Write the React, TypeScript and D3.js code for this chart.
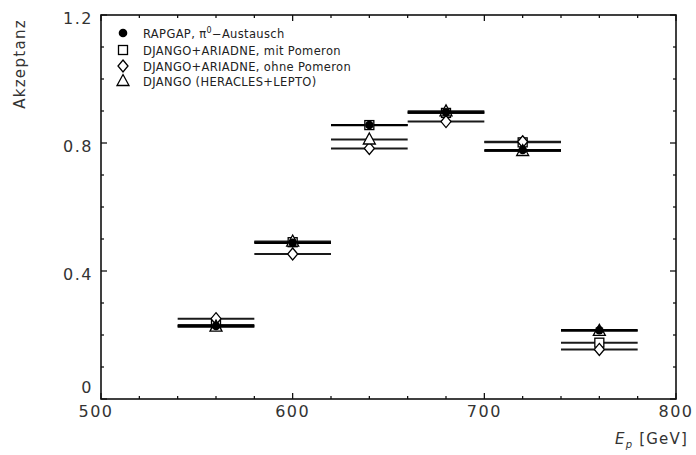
import React from "react";
import * as d3 from "d3";

// ---- data ----
const binCenters = [560, 600, 640, 680, 720, 760];
const binHalfWidth = 20;
const rapgap = [0.228, 0.488, 0.856, 0.896, 0.778, 0.215];
const ariadneMit = [0.231, 0.49, 0.856, 0.894, 0.802, 0.176];
const ariadneOhne = [0.251, 0.453, 0.783, 0.867, 0.804, 0.155];
const djangoLepto = [0.226, 0.492, 0.811, 0.899, 0.775, 0.213];
const xTicksMajor = [500, 600, 700, 800];
const yTicksMajor = [0, 0.4, 0.8, 1.2];
const legendLabels = [
  "RAPGAP, π",
  "DJANGO+ARIADNE, mit Pomeron",
  "DJANGO+ARIADNE, ohne Pomeron",
  "DJANGO (HERACLES+LEPTO)",
];

const W = 696;
const H = 455;
const x = d3.scaleLinear().domain([500, 800]).range([101, 676]);
const y = d3.scaleLinear().domain([0, 1.2]).range([399, 15]);

type Shape = "circle" | "square" | "diamond" | "triangle";
const series: { values: number[]; shape: Shape; color: string; width: number }[] = [
  { values: ariadneOhne, shape: "diamond", color: "#1a1a1a", width: 2 },
  { values: djangoLepto, shape: "triangle", color: "#1a1a1a", width: 2 },
  { values: ariadneMit, shape: "square", color: "#1a1a1a", width: 2 },
  { values: rapgap, shape: "circle", color: "#000", width: 2.2 },
];

function Marker({ shape, cx, cy }: { shape: Shape; cx: number; cy: number }) {
  const sw = 1.3;
  if (shape === "circle")
    return <circle cx={cx} cy={cy} r={4.3} fill="#000" />;
  if (shape === "square")
    return <rect x={cx - 4.5} y={cy - 4.5} width={9} height={9} fill="#fff" stroke="#000" strokeWidth={sw} />;
  if (shape === "diamond") {
    const p = d3.path();
    p.moveTo(cx, cy - 6);
    p.lineTo(cx + 5, cy);
    p.lineTo(cx, cy + 6);
    p.lineTo(cx - 5, cy);
    p.closePath();
    return <path d={p.toString()} fill="#fff" stroke="#000" strokeWidth={sw} />;
  }
  const p = d3.path();
  p.moveTo(cx, cy - 6.5);
  p.lineTo(cx + 6, cy + 4.5);
  p.lineTo(cx - 6, cy + 4.5);
  p.closePath();
  return <path d={p.toString()} fill="#fff" stroke="#000" strokeWidth={sw} />;
}

export default function App() {
  const xMinor = d3.range(500, 801, 20);
  const yMinor = d3.range(0, 1.2001, 0.1);
  const [x0, x1] = x.range();
  const [y0, y1] = y.range();
  const font = "'DejaVu Sans', sans-serif";
  const legendShapes: Shape[] = ["circle", "square", "diamond", "triangle"];
  const legendY = [33, 50, 66, 81];
  const markerOrder: Shape[] = ["square", "diamond", "triangle", "circle"];

  return (
    <svg width={W} height={H} style={{ position: "absolute", left: 0, top: 0, background: "#fff" }}>
      <rect width={W} height={H} fill="#fff" />
      {/* ticks */}
      {xMinor.map((v) => {
        const major = xTicksMajor.includes(v);
        const len = major ? 6 : 3;
        return (
          <g key={"xt" + v} stroke="#000" strokeWidth={1.2}>
            <line x1={x(v)} x2={x(v)} y1={y0} y2={y0 - len} />
            <line x1={x(v)} x2={x(v)} y1={y1} y2={y1 + len} />
          </g>
        );
      })}
      {yMinor.map((v, i) => {
        const major = i % 4 === 0;
        const len = major ? 6 : 3;
        return (
          <g key={"yt" + i} stroke="#000" strokeWidth={1.2}>
            <line x1={x0} x2={x0 + len} y1={y(v)} y2={y(v)} />
            <line x1={x1} x2={x1 - len} y1={y(v)} y2={y(v)} />
          </g>
        );
      })}
      {/* frame */}
      <rect x={x0} y={y1} width={x1 - x0} height={y0 - y1} fill="none" stroke="#111" strokeWidth={1.6} />

      {/* tick labels */}
      {xTicksMajor.map((v) => (
        <text key={"xl" + v} x={x(v) - (v === 500 ? 5 : 0)} y={417} textAnchor="middle" fontFamily={font}
          fontSize={16} letterSpacing={1.5} fill="#333">
          {v}
        </text>
      ))}
      {yTicksMajor.map((v) => (
        <text key={"yl" + v} x={93} y={v === 0 ? y(v) - 6 : y(v) + 9} textAnchor="end" fontFamily={font}
          fontSize={16} letterSpacing={1.5} fill="#333">
          {v === 0 ? "0" : d3.format(".1f")(v)}
        </text>
      ))}

      {/* axis titles */}
      <text transform="translate(25,64) rotate(-90)" textAnchor="middle" fontFamily={font} fontSize={15}
        letterSpacing={1.3} fill="#333">
        Akzeptanz
      </text>
      <text x={688} y={444} textAnchor="end" fontFamily={font} fontSize={15} letterSpacing={1.2} fill="#333">
        <tspan fontStyle="italic">E</tspan>
        <tspan fontStyle="italic" fontSize={10} dy={4}>p</tspan>
        <tspan dy={-4}>{"  [GeV]"}</tspan>
      </text>

      {/* horizontal bin lines */}
      {series.map((s, si) =>
        s.values.map((v, i) => (
          <line key={"l" + si + "-" + i}
            x1={x(binCenters[i] - binHalfWidth)} x2={x(binCenters[i] + binHalfWidth)}
            y1={y(v)} y2={y(v)} stroke={s.color} strokeWidth={s.width} />
        ))
      )}
      {/* markers */}
      {markerOrder.map((shape) => {
        const s = series.find((d) => d.shape === shape)!;
        return s.values.map((v, i) => (
          <Marker key={shape + i} shape={shape} cx={x(binCenters[i])} cy={y(v)} />
        ));
      })}

      {/* legend */}
      {legendLabels.map((lab, i) => (
        <g key={"lg" + i}>
          <Marker shape={legendShapes[i]} cx={123} cy={legendY[i]} />
          <text x={143} y={legendY[i] + 4.5} fontFamily={font} fontSize={11.5} letterSpacing={0.35} fill="#222">
            {lab}
            {i === 0 && (
              <>
                <tspan fontSize={8} dy={-5}>0</tspan>
                <tspan dy={5}>−Austausch</tspan>
              </>
            )}
          </text>
        </g>
      ))}
    </svg>
  );
}
